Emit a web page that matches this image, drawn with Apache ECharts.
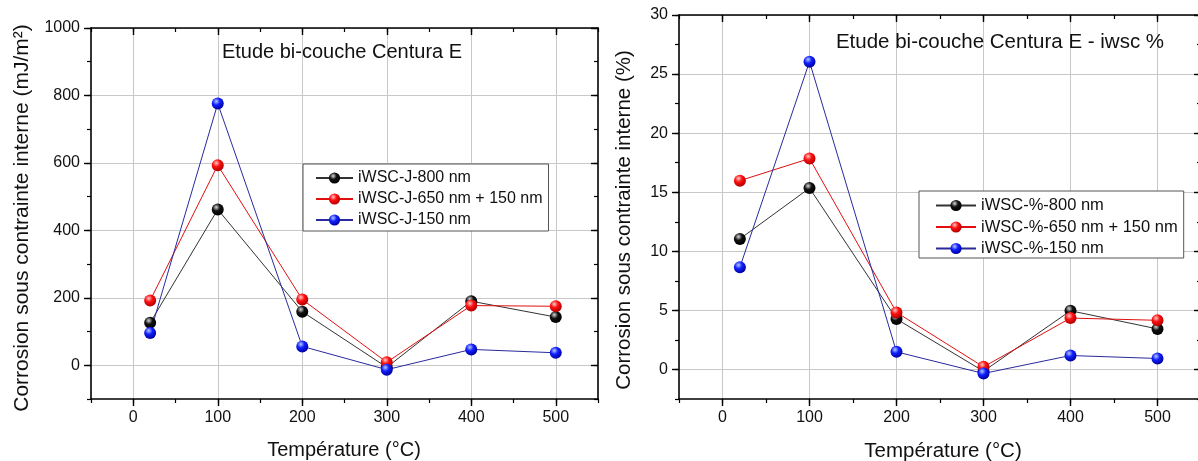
<!DOCTYPE html>
<html><head><meta charset="utf-8">
<script src="https://cdn.jsdelivr.net/npm/echarts@6/dist/echarts.min.js"></script>
<style>html,body{margin:0;padding:0;background:#fff;overflow:hidden;width:1198px;height:461px}#c{width:1210px;height:461px}</style>
</head><body><div id="c"></div>
<script>
// ---- data ----
const temps = [20, 100, 200, 300, 400, 500];
const namesJ = ['iWSC-J-800 nm', 'iWSC-J-650 nm + 150 nm', 'iWSC-J-150 nm'];
const namesP = ['iWSC-%-800 nm', 'iWSC-%-650 nm + 150 nm', 'iWSC-%-150 nm'];
const jBlack = [126, 462, 159, -6, 190, 143];
const jRed = [192, 593, 195, 9, 177, 175];
const jBlue = [96, 776, 56, -13, 47, 37];
const pBlack = [11.05, 15.35, 4.27, -0.15, 4.97, 3.43];
const pRed = [15.98, 17.85, 4.83, 0.22, 4.35, 4.16];
const pBlue = [8.65, 26.05, 1.49, -0.34, 1.18, 0.93];
const xTicks = [0, 100, 200, 300, 400, 500];
const yTicksJ = [0, 200, 400, 600, 800, 1000];
const yTicksP = [0, 5, 10, 15, 20, 25, 30];
const titleJ = 'Etude bi-couche Centura E';
const titleP = 'Etude bi-couche Centura E - iwsc %';
const yNameJ = 'Corrosion sous contrainte interne (mJ/m²)';
const yNameP = 'Corrosion sous contrainte interne (%)';
const xName = 'Température (°C)';

const FONT = 'Liberation Sans, Arial, sans-serif';
function sphere(c0, c1, c2) {
  return {type: 'radial', x: 0.38, y: 0.32, r: 0.68,
    colorStops: [{offset: 0, color: c0}, {offset: 0.45, color: c1}, {offset: 1, color: c2}]};
}
const styles = [
  {line: '#333333', fill: sphere('#d8d8d8', '#111111', '#000000')},
  {line: '#e01010', fill: sphere('#ffc8c8', '#ff1010', '#b00000')},
  {line: '#2a2a9c', fill: sphere('#b8c8ff', '#1020ff', '#0000a0')}
];
const GRID = '#c8c8c8';

function axesFor(gridIdx, min, max, interval, ticks, isX) {
  const main = {
    type: 'value', gridIndex: gridIdx, min: min, max: max, interval: interval,
    position: isX ? 'bottom' : 'left',
    axisLine: {show: true, onZero: false, lineStyle: {color: '#000', width: 1.6}},
    axisTick: {show: true, inside: false, length: 4, lineStyle: {color: '#000', width: 1.2}},
    axisLabel: {show: true, color: '#111', fontSize: 16, fontFamily: FONT, margin: 11,
      formatter: v => (ticks.some(t => Math.abs(t - v) < 1e-9) ? String(v) : '')},
    splitLine: {show: true, lineStyle: {color: ['rgba(0,0,0,0)', GRID], width: 1}}
  };
  const mirror = {
    type: 'value', gridIndex: gridIdx, min: min, max: max, interval: interval,
    position: isX ? 'top' : 'right',
    axisLine: {show: true, onZero: false, lineStyle: {color: '#000', width: 1.6}},
    axisTick: {show: true, inside: true, length: 4, lineStyle: {color: '#000', width: 1.2}},
    axisLabel: {show: false}, splitLine: {show: false}
  };
  const majB = {
    type: 'value', gridIndex: gridIdx + 1, min: min, max: max, interval: interval,
    position: isX ? 'bottom' : 'left',
    axisLine: {show: false, onZero: false},
    axisTick: {show: true, inside: false, length: 7, customValues: ticks, lineStyle: {color: '#000', width: 1.4}},
    axisLabel: {show: false}, splitLine: {show: false}
  };
  const majT = {
    type: 'value', gridIndex: gridIdx + 1, min: min, max: max, interval: interval,
    position: isX ? 'top' : 'right',
    axisLine: {show: false, onZero: false},
    axisTick: {show: true, inside: true, length: 7, customValues: ticks, lineStyle: {color: '#000', width: 1.4}},
    axisLabel: {show: false}, splitLine: {show: false}
  };
  return [main, mirror, majB, majT];
}

const xAxes = [].concat(axesFor(0, -50, 550, 50, xTicks, true), axesFor(2, -50, 550, 50, xTicks, true));
const yAxes = [].concat(axesFor(0, -100, 1000, 100, yTicksJ, false), axesFor(2, -2.5, 30, 2.5, yTicksP, false));

function mkSeries(name, vals, st, xi, yi) {
  return {
    type: 'line', name: name, xAxisIndex: xi, yAxisIndex: yi,
    data: temps.map((t, i) => [t, vals[i]]),
    symbol: 'circle', symbolSize: 12, showSymbol: true,
    lineStyle: {color: st.line, width: 1},
    itemStyle: {color: st.fill, borderWidth: 0},
    emphasis: {disabled: true}, animation: false, clip: false
  };
}
const series = [
  mkSeries(namesJ[0], jBlack, styles[0], 0, 0),
  mkSeries(namesJ[1], jRed, styles[1], 0, 0),
  mkSeries(namesJ[2], jBlue, styles[2], 0, 0),
  mkSeries(namesP[0], pBlack, styles[0], 4, 4),
  mkSeries(namesP[1], pRed, styles[1], 4, 4),
  mkSeries(namesP[2], pBlue, styles[2], 4, 4)
];

function legend(names, left, top, fs, iw, pad, gap) {
  return {
    data: names, orient: 'vertical', left: left, top: top,
    itemWidth: iw, itemHeight: 14, itemGap: gap,
    padding: pad, borderColor: '#555', borderWidth: 1, backgroundColor: '#fff',
    textStyle: {fontSize: fs, fontFamily: FONT, color: '#111'},
    selectedMode: false
  };
}

function txt(x, y, s, fs, rot) {
  return {type: 'text', x: x, y: y, rotation: rot || 0, z: 100,
    style: {text: s, font: fs + 'px ' + FONT, fill: '#111', textAlign: 'center', textVerticalAlign: 'middle'}};
}

const option = {
  animation: false,
  backgroundColor: '#fff',
  grid: [
    {left: 91, top: 28, width: 507, height: 371},
    {left: 91, top: 28, width: 507, height: 371},
    {left: 679, top: 15, width: 522, height: 384},
    {left: 679, top: 15, width: 522, height: 384}
  ],
  xAxis: xAxes,
  yAxis: yAxes,
  legend: [
    legend(namesJ, 303, 164, 16, 37, [6, 6, 3, 12], 5),
    legend(namesP, 919, 191, 16.5, 40, [6, 6, 1, 16], 4.5)
  ],
  series: series,
  graphic: [
    txt(342, 52, titleJ, 20),
    txt(1000, 42, titleP, 20.5),
    txt(344, 450, xName, 20),
    txt(943, 451, xName, 20.5),
    txt(22, 218, yNameJ, 21, Math.PI / 2),
    txt(624, 220, yNameP, 20.5, Math.PI / 2)
  ]
};
const chart = echarts.init(document.getElementById('c'), null, {renderer: 'canvas'});
chart.setOption(option);
</script></body></html>
